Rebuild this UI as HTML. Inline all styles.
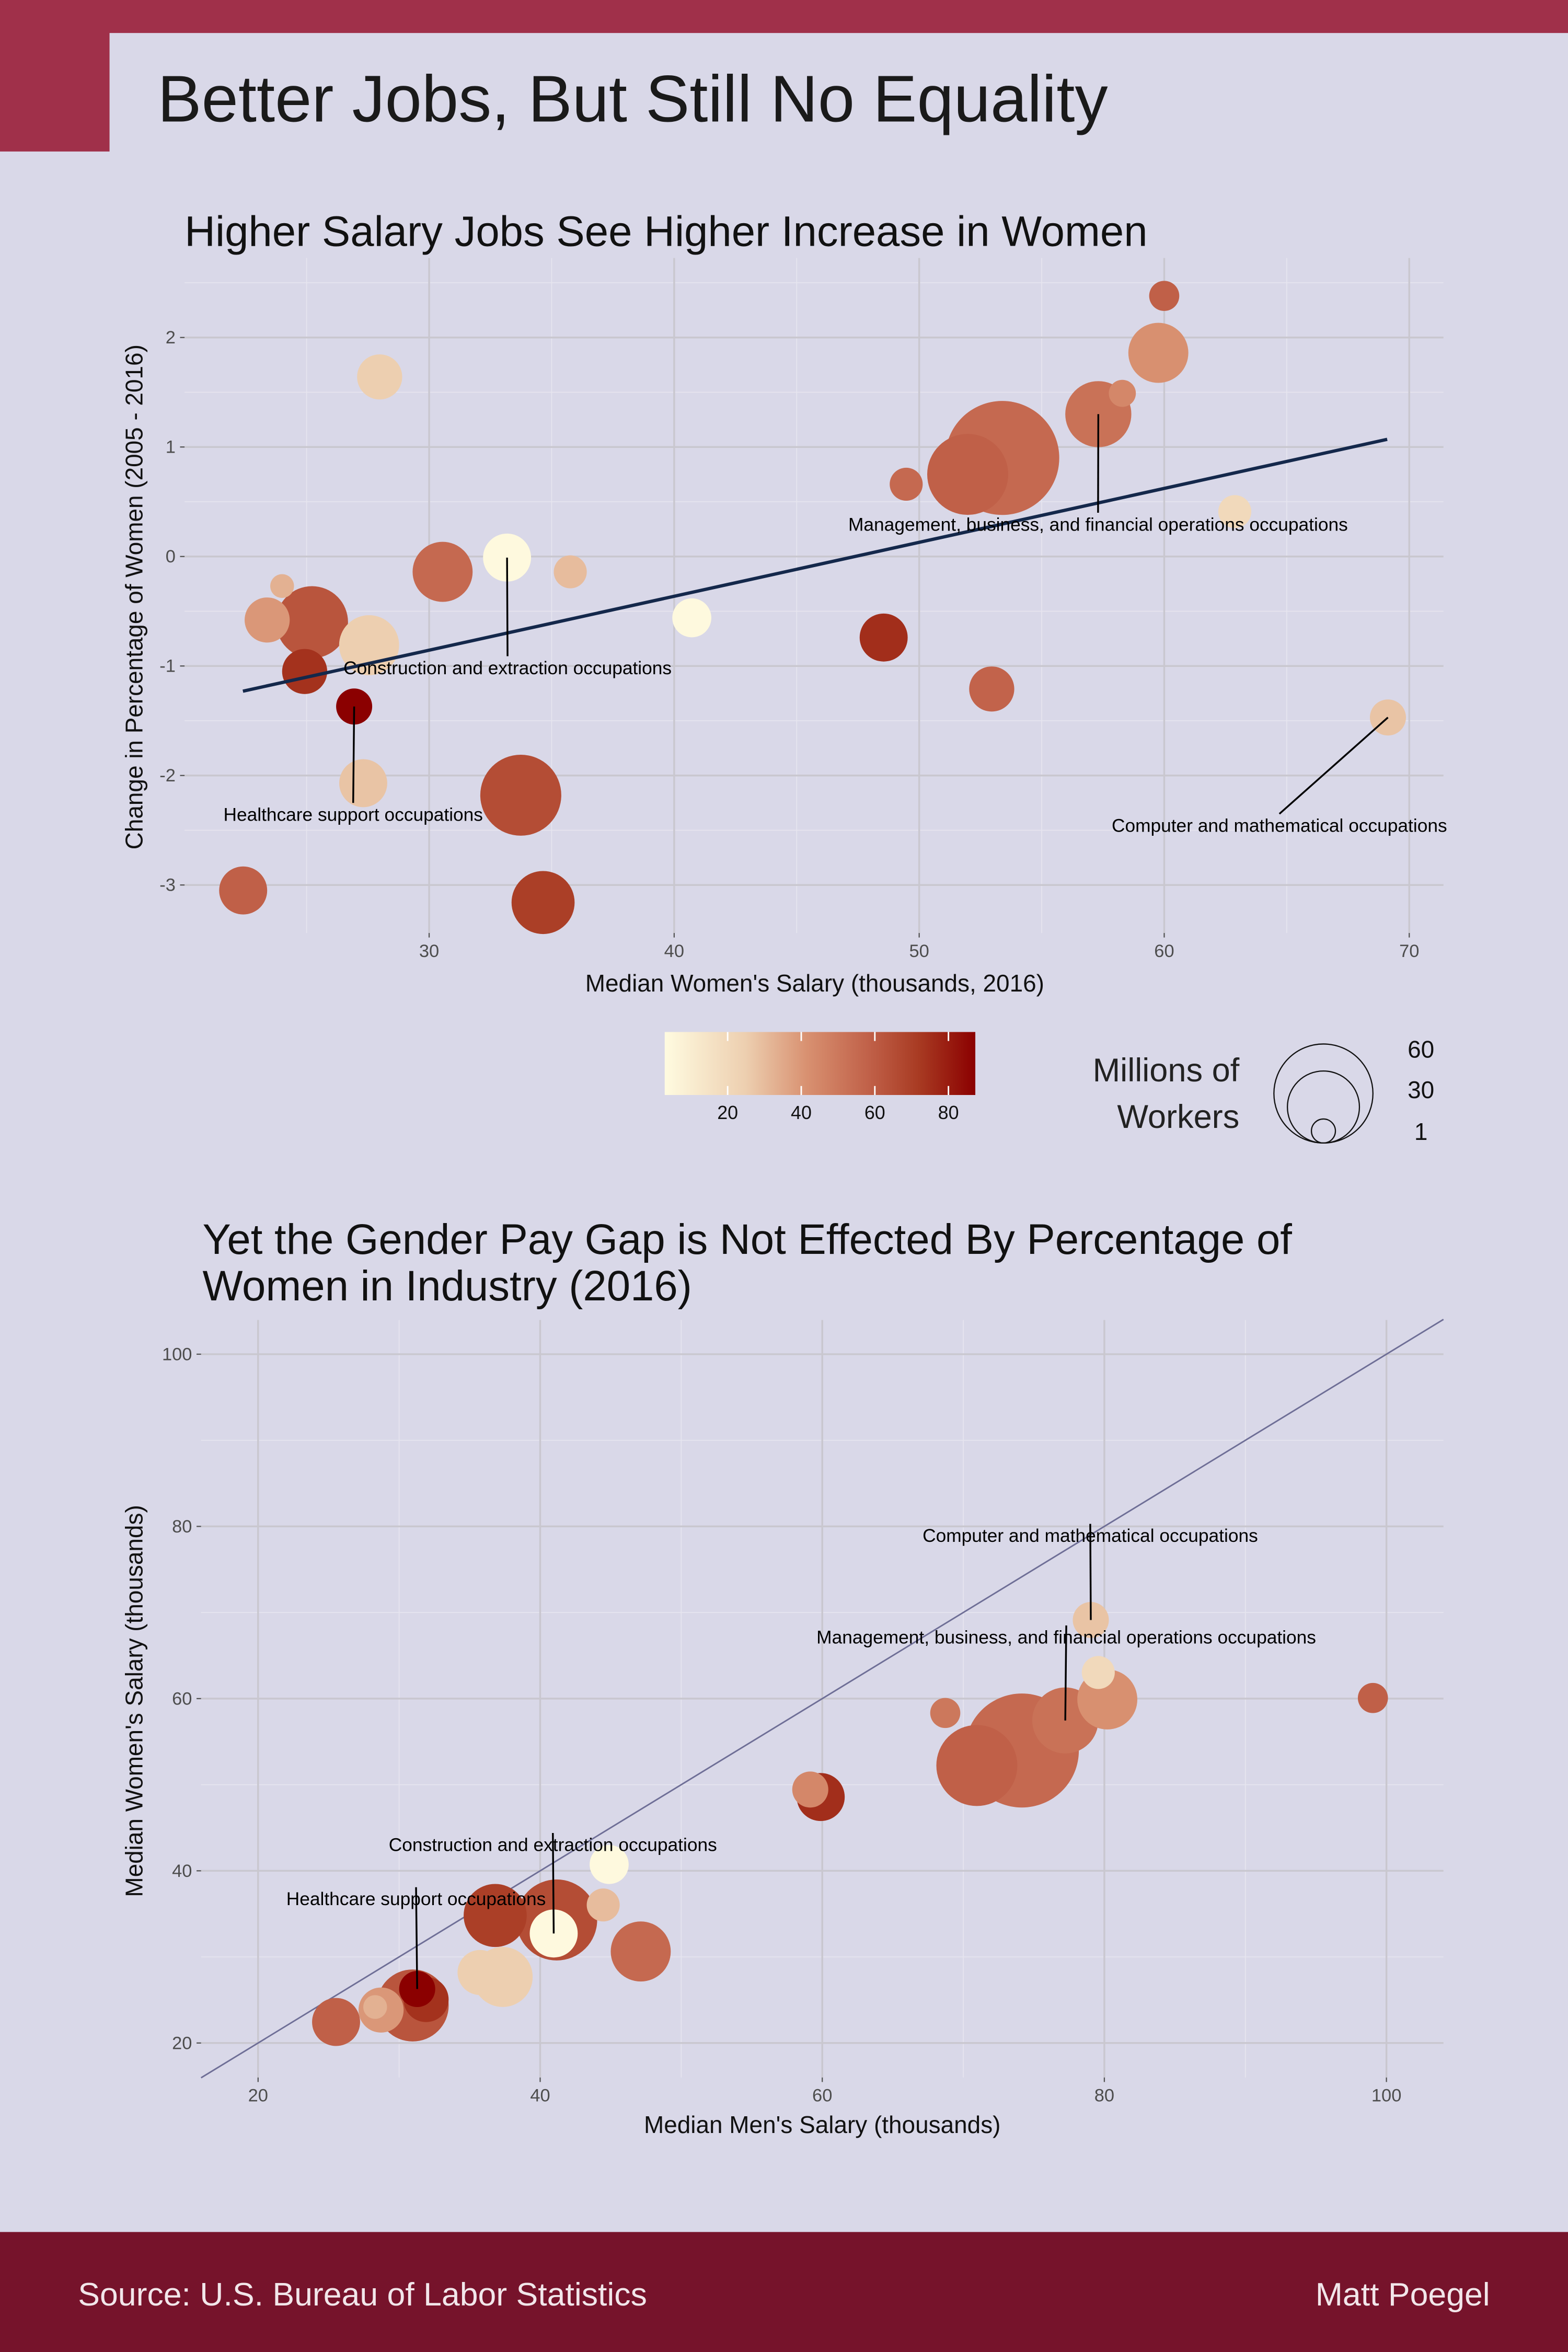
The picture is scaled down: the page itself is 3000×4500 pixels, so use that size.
<!DOCTYPE html>
<html><head><meta charset="utf-8"><style>
html,body{margin:0;padding:0;background:#d9d8e8;}
svg{display:block;font-family:"Liberation Sans",Arial,sans-serif;}
</style></head><body>
<svg id="root" width="3000" height="4500" viewBox="0 0 1045 1568" preserveAspectRatio="none" xmlns="http://www.w3.org/2000/svg">
<defs>
<linearGradient id="cgrad" x1="0" x2="1" y1="0" y2="0">
<stop offset="0" stop-color="#fffbe0"/><stop offset="0.26" stop-color="#edcfb0"/><stop offset="0.46" stop-color="#d89070"/><stop offset="0.66" stop-color="#c06048"/><stop offset="0.82" stop-color="#a83a22"/><stop offset="1" stop-color="#8b0000"/>
</linearGradient>
</defs>
<rect x="0" y="0" width="1045" height="1568" fill="#d9d8e8"/>
<rect x="0" y="0" width="1045" height="22" fill="#a0304a"/>
<rect x="0" y="0" width="73" height="101" fill="#a0304a"/>
<text x="105" y="81" font-size="44" fill="#1a1a1a">Better Jobs, But Still No Equality</text>
<text x="123" y="164" font-size="28.4" fill="#111">Higher Salary Jobs See Higher Increase in Women</text>
<g id="c1"></g>
<g>
<rect x="443" y="688" width="207" height="42" fill="url(#cgrad)"/>
<g id="cleg"></g>
</g>
<g>
<text x="826" y="721" font-size="22" text-anchor="end" fill="#222">Millions of</text>
<text x="826" y="752" font-size="22" text-anchor="end" fill="#222">Workers</text>
<circle cx="882" cy="729" r="33" fill="none" stroke="#111" stroke-width="0.8"/>
<circle cx="882" cy="738" r="24" fill="none" stroke="#111" stroke-width="0.8"/>
<circle cx="882" cy="754" r="8" fill="none" stroke="#111" stroke-width="0.8"/>
<text x="947" y="705" font-size="16" text-anchor="middle" fill="#111">60</text>
<text x="947" y="732" font-size="16" text-anchor="middle" fill="#111">30</text>
<text x="947" y="760" font-size="16" text-anchor="middle" fill="#111">1</text>
</g>
<text x="135" y="836" font-size="28.4" fill="#111">Yet the Gender Pay Gap is Not Effected By Percentage of</text>
<text x="135" y="867" font-size="28.4" fill="#111">Women in Industry (2016)</text>
<g id="c2"></g>
<rect x="0" y="1488" width="1045" height="80" fill="#76132b"/>
<text x="52" y="1537" font-size="21.8" fill="#f2e6ea">Source: U.S. Bureau of Labor Statistics</text>
<text x="993" y="1537" font-size="21.8" text-anchor="end" fill="#f2e6ea">Matt Poegel</text>
</svg>
<script>
// ---- Chart 1 data ----
const c1WomenSalary = [60.0,59.76,27.98,58.29,57.31,53.39,51.98,49.47,62.88,30.55,33.18,35.76,24.0,23.39,25.22,27.55,40.72,48.55,24.92,26.94,52.96,69.13,27.31,33.74,22.41,34.65];
const c1Change = [2.38,1.86,1.64,1.49,1.30,0.90,0.75,0.66,0.41,-0.14,-0.01,-0.14,-0.27,-0.58,-0.60,-0.81,-0.56,-0.74,-1.05,-1.37,-1.21,-1.47,-2.07,-2.18,-3.05,-3.16];
const c1Workers = [2.6,18.3,8.7,1.8,23.2,82.6,37.8,3.5,3.5,18.3,10.3,3.5,1.1,8.7,28.6,18.3,5.8,10.3,8.7,4.6,8.7,4.6,10.3,37.8,10.3,20.7];
const c1PctWomen = [58,42,25,45,52,55,58,55,20,55,4,30,33,40,62,25,4,75,74,88,57,28,28,65,58,70];
const c1FitX = [22.4,69.1];
const c1FitY = [-1.23,1.07];
const c1XTicks = [30,40,50,60,70];
const c1YTicks = [-3,-2,-1,0,1,2];
const c1Labels = ["Management, business, and financial operations occupations","Construction and extraction occupations","Healthcare support occupations","Computer and mathematical occupations"];
const c1LabelPt = [[57.31,1.30],[33.18,-0.01],[26.94,-1.37],[69.13,-1.47]];
const c1LabelAt = [[57.3,0.29],[33.2,-1.02],[26.9,-2.36],[64.7,-2.46]];
// ---- Chart 2 data ----
const c2MenSalary = [79.04,79.57,80.21,68.72,77.23,74.15,70.96,99.04,59.89,59.15,44.89,44.47,41.17,36.81,40.96,47.13,37.34,35.74,31.28,30.96,31.91,28.72,28.30,25.53];
const c2WomenSalary = [69.13,63.03,59.9,58.33,57.46,53.97,52.23,60.07,48.57,49.44,40.73,36.03,34.29,34.81,32.72,30.63,27.67,28.19,26.27,24.36,25.05,23.83,24.18,22.44];
const c2Workers = [4.6,3.5,18.3,2.6,23.2,82.6,37.8,2.6,10.3,4.6,5.8,3.5,37.8,20.7,10.3,18.3,18.3,8.7,4.6,28.6,8.7,8.7,1.1,10.3];
const c2PctWomen = [28,20,42,50,52,55,58,58,75,45,4,30,65,70,4,55,25,25,88,62,74,40,33,58];
const c2XTicks = [20,40,60,80,100];
const c2YTicks = [20,40,60,80,100];
const c2Labels = ["Computer and mathematical occupations","Management, business, and financial operations occupations","Construction and extraction occupations","Healthcare support occupations"];
const c2LabelPt = [[79.04,69.13],[77.23,57.46],[40.96,32.72],[31.28,26.27]];
const c2LabelAt = [[79.0,78.9],[77.3,67.1],[40.9,43.0],[31.2,36.7]];
// ---- legend ----
const colorTicks = [20,40,60,80];

const NS="http://www.w3.org/2000/svg";
function mk(parent,tag,attrs){const e=document.createElementNS(NS,tag);for(const k in attrs)e.setAttribute(k,attrs[k]);parent.appendChild(e);return e;}
const stops=[[3,[255,251,224]],[25,[237,207,176]],[42,[216,144,112]],[58,[192,96,72]],[72,[168,58,34]],[87,[139,0,0]]];
function col(p){if(p<=stops[0][0])return "rgb("+stops[0][1]+")";for(let i=1;i<stops.length;i++){if(p<=stops[i][0]){const a=stops[i-1],b=stops[i],t=(p-a[0])/(b[0]-a[0]);return "rgb("+a[1].map((v,j)=>Math.round(v+(b[1][j]-v)*t)).join(",")+")";}}return "rgb("+stops[stops.length-1][1]+")";}
function rad(w){return 4+3.74*Math.sqrt(w);}

function drawChart(g,o){
  const {x0,x1,y0,y1,sx,sy,xt,yt}=o;
  mk(g,'rect',{x:x0,y:y0,width:x1-x0,height:y1-y0,fill:'#d9d8e8'});
  for(let i=0;i<xt.length+1;i++){const v=xt[0]+(i-0.5)*(xt[1]-xt[0]);const X=sx(v);if(X>x0&&X<x1){const l=mk(g,'line',{x1:X,x2:X,y1:y0,y2:y1,stroke:'#e6e5ef','stroke-width':0.6});}}
  for(let i=0;i<yt.length+1;i++){const v=yt[0]+(i-0.5)*(yt[1]-yt[0]);const Y=sy(v);if(Y>y0&&Y<y1){const l=mk(g,'line',{x1:x0,x2:x1,y1:Y,y2:Y,stroke:'#e6e5ef','stroke-width':0.6});}}
  xt.forEach(v=>{const X=sx(v);const l=mk(g,'line',{x1:X,x2:X,y1:y0,y2:y1,stroke:'#c9c7cf','stroke-width':1.2});
    const tk=mk(g,'line',{x1:X,x2:X,y1:y1,y2:y1+3,stroke:'#555','stroke-width':0.8});
    const t=mk(g,'text',{x:X,y:y1+16,'font-size':12,'text-anchor':'middle',fill:'#4d4d4d'});t.textContent=v;});
  yt.forEach(v=>{const Y=sy(v);const l=mk(g,'line',{x1:x0,x2:x1,y1:Y,y2:Y,stroke:'#c9c7cf','stroke-width':1.2});
    const tk=mk(g,'line',{x1:x0-3,x2:x0,y1:Y,y2:Y,stroke:'#555','stroke-width':0.8});
    const t=mk(g,'text',{x:x0-6,y:Y+4,'font-size':12,'text-anchor':'end',fill:'#4d4d4d'});t.textContent=v;});
}
function drawPoints(g,xs,ys,ws,ps,sx,sy,name){
  const idx=xs.map((_,i)=>i).sort((a,b)=>ws[b]-ws[a]);
  idx.forEach(i=>{const c=mk(g,'circle',{cx:sx(xs[i]),cy:sy(ys[i]),r:rad(ws[i]),fill:col(ps[i])});
    
    });
}
function drawLabels(g,labels,pts,at,sx,sy){
  labels.forEach((s,i)=>{const ln=mk(g,'line',{x1:sx(pts[i][0]),y1:sy(pts[i][1]),x2:sx(at[i][0]),y2:sy(at[i][1])-8,stroke:'#000','stroke-width':1.2});
    
    
    const t=mk(g,'text',{x:sx(at[i][0]),y:sy(at[i][1])+4,'font-size':12.3,'text-anchor':'middle',fill:'#000'});t.textContent=s;
    
    });
}
(function(){
  const g=document.getElementById('c1');
  const sx=v=>286+(v-30)*16.33, sy=v=>371-73*v;
  drawChart(g,{x0:123,x1:962,y0:172,y1:622,sx,sy,xt:c1XTicks,yt:c1YTicks});
  drawPoints(g,c1WomenSalary,c1Change,c1Workers,c1PctWomen,sx,sy,'occupation-bubble');
  const fl=mk(g,'line',{x1:sx(c1FitX[0]),y1:sy(c1FitY[0]),x2:sx(c1FitX[1]),y2:sy(c1FitY[1]),stroke:'#14284b','stroke-width':2.2});
  
  
  drawLabels(g,c1Labels,c1LabelPt,c1LabelAt,sx,sy);
  const xt=mk(g,'text',{x:543,y:661,'font-size':16,'text-anchor':'middle',fill:'#111'});xt.textContent="Median Women's Salary (thousands, 2016)";
  
  const yt=mk(g,'text',{x:0,y:0,'font-size':16,'text-anchor':'middle',fill:'#111',transform:'translate(95,398) rotate(-90)'});yt.textContent="Change in Percentage of Women (2005 - 2016)";
  
})();
(function(){
  const g=document.getElementById('c2');
  const sx=v=>172+(v-20)*9.4, sy=v=>1362-(v-20)*5.74;
  drawChart(g,{x0:134,x1:962,y0:880,y1:1385,sx,sy,xt:c2XTicks,yt:c2YTicks});
  const d0=(134-172)/9.4+20, d1=(962-172)/9.4+20;
  const el=mk(g,'line',{x1:sx(d0),y1:sy(d0),x2:sx(d1),y2:sy(d1),stroke:'#6e6e96','stroke-width':1});
  
  
  drawPoints(g,c2MenSalary,c2WomenSalary,c2Workers,c2PctWomen,sx,sy,'occupation-bubble');
  drawLabels(g,c2Labels,c2LabelPt,c2LabelAt,sx,sy);
  const xt=mk(g,'text',{x:548,y:1422,'font-size':16,'text-anchor':'middle',fill:'#111'});xt.textContent="Median Men's Salary (thousands)";
  
  const yt=mk(g,'text',{x:0,y:0,'font-size':16,'text-anchor':'middle',fill:'#111',transform:'translate(95,1134) rotate(-90)'});yt.textContent="Median Women's Salary (thousands)";
  
})();
(function(){
  const g=document.getElementById('cleg');
  const sx=v=>443+(v-2.9)*(207/84.4);
  colorTicks.forEach(v=>{
    const a=mk(g,'line',{x1:sx(v),x2:sx(v),y1:688,y2:694,stroke:'#fff','stroke-width':1});
    
    const b=mk(g,'line',{x1:sx(v),x2:sx(v),y1:724,y2:730,stroke:'#fff','stroke-width':1});
    
    const t=mk(g,'text',{x:sx(v),y:746,'font-size':12.5,'text-anchor':'middle',fill:'#111'});t.textContent=v;
    
  });
})();
</script>
</body></html>
